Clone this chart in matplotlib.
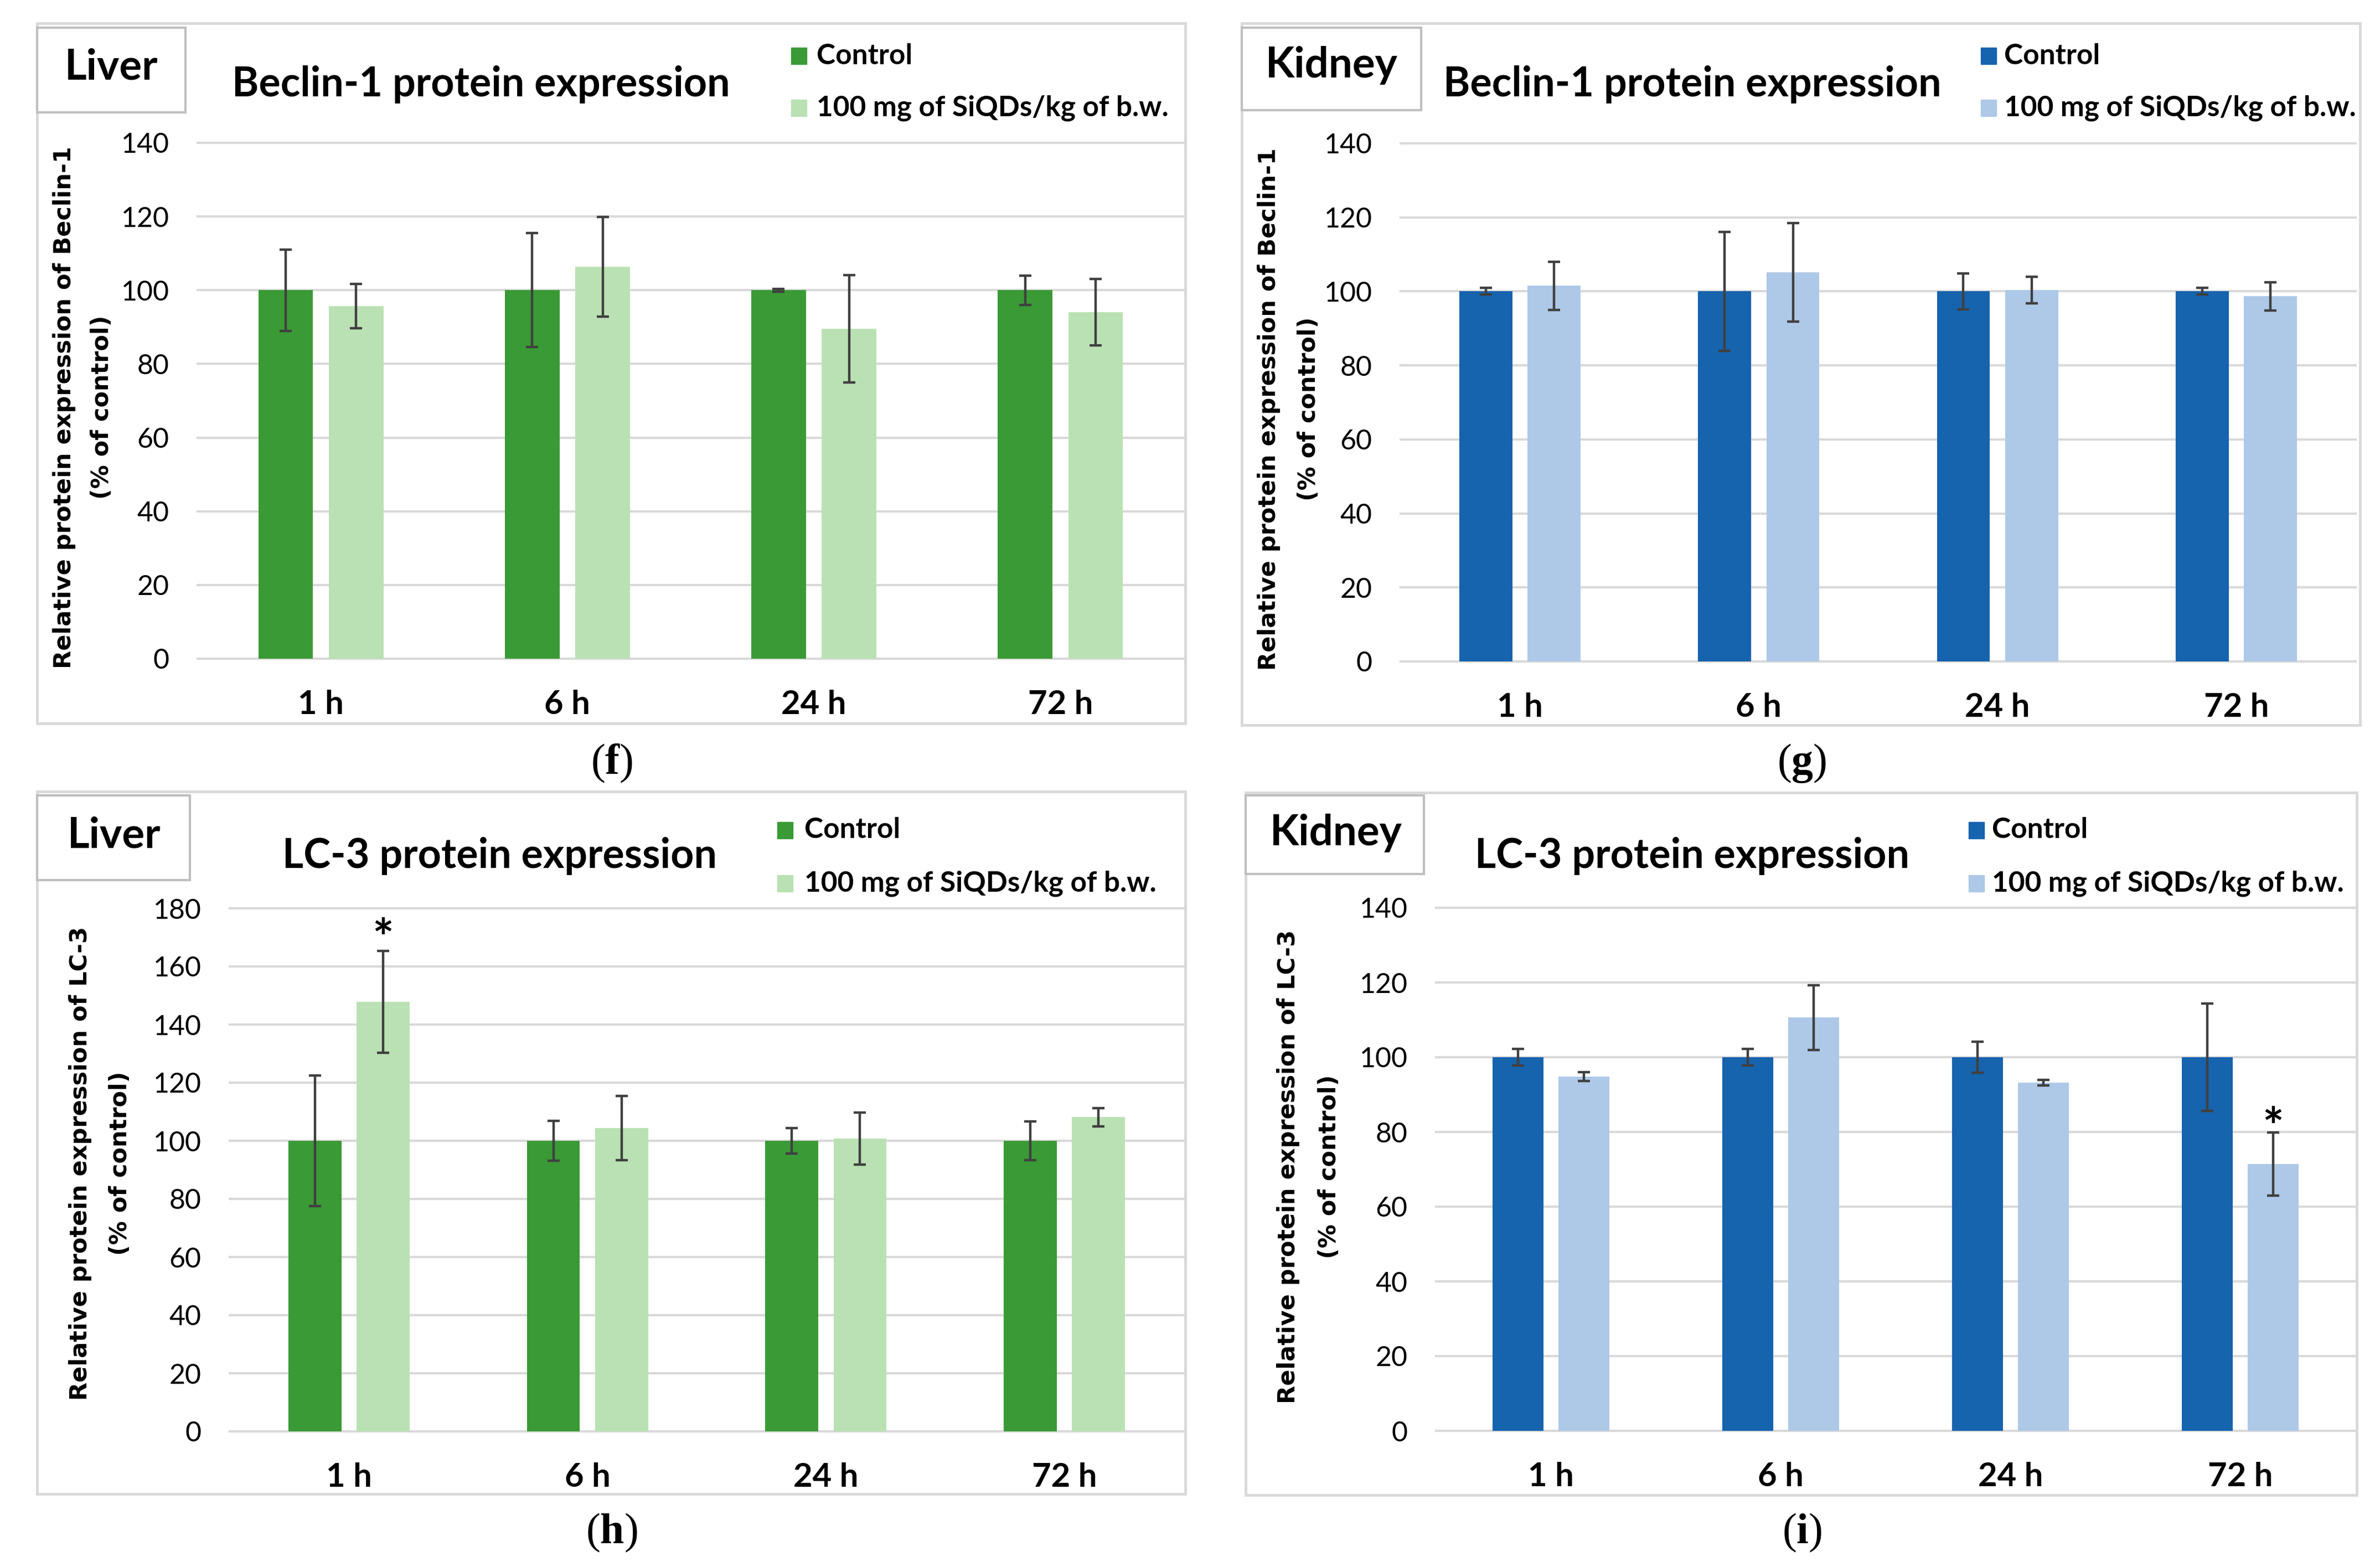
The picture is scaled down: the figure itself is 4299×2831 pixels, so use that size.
import matplotlib
matplotlib.use('Agg')
import matplotlib.pyplot as plt
from matplotlib.patches import Rectangle
import numpy as np

W, H = 4299, 2831
plt.rcParams['font.family'] = ['Lato', 'DejaVu Sans']
plt.rcParams['mathtext.fontset'] = 'custom'
plt.rcParams['mathtext.rm'] = 'Liberation Serif'
plt.rcParams['mathtext.bf'] = 'Liberation Serif:bold'

# data
times = ['1 h', '6 h', '24 h', '72 h']
series_labels = ['Control', '100 mg of SiQDs/kg of b.w.']

liver_beclin_ctrl = [100, 100, 100, 100]
liver_beclin_ctrl_err = [11.0, 15.5, 0.4, 4.0]
liver_beclin_trt = [95.7, 106.4, 89.5, 94.0]
liver_beclin_trt_err = [6.0, 13.5, 14.6, 9.0]

kidney_beclin_ctrl = [100, 100, 100, 100]
kidney_beclin_ctrl_err = [0.9, 16.1, 4.9, 0.9]
kidney_beclin_trt = [101.5, 105.1, 100.3, 98.7]
kidney_beclin_trt_err = [6.5, 13.3, 3.6, 3.8]

liver_lc3_ctrl = [100, 100, 100, 100]
liver_lc3_ctrl_err = [22.4, 6.8, 4.3, 6.6]
liver_lc3_trt = [147.8, 104.4, 100.8, 108.1]
liver_lc3_trt_err = [17.6, 11.1, 9.0, 3.2]

kidney_lc3_ctrl = [100, 100, 100, 100]
kidney_lc3_ctrl_err = [2.2, 2.2, 4.1, 14.3]
kidney_lc3_trt = [94.8, 110.6, 93.2, 71.4]
kidney_lc3_trt_err = [1.2, 8.6, 0.7, 8.5]

greens = ['#3A9A35', '#BAE1B3']
blues = ['#1663AE', '#AEC8E8']

fig = plt.figure(figsize=(W / 100, H / 100), dpi=100)


def fx(px):
    return px / W


def fy(py):
    return 1 - py / H


def box(x0, y0, x1, y1, ec, lw):
    fig.add_artist(Rectangle((fx(x0), fy(y1)), (x1 - x0) / W, (y1 - y0) / H,
                             transform=fig.transFigure, facecolor='white',
                             edgecolor=ec, linewidth=lw, zorder=0))


panels = [
    dict(frame=(67, 42, 2141, 1307), ax=(357, 258, 2138, 1190), ymax=140,
         organ='Liver', obox=(67, 50, 335, 203), organ_xy=(201, 143),
         title='Beclin-1 protein expression', title_xy=(869, 174),
         leg=(1429, 1475, 101, 195), ylab='Beclin-1', ylab_x=(116, 184), ylab_y=736,
         cap='f', cap_xy=(1105, 1379), colors=greens,
         ctrl=liver_beclin_ctrl, ctrl_err=liver_beclin_ctrl_err,
         trt=liver_beclin_trt, trt_err=liver_beclin_trt_err, stars=[]),
    dict(frame=(2243, 42, 4263, 1310), ax=(2530, 259, 4255, 1195), ymax=140,
         organ='Kidney', obox=(2243, 50, 2567, 199), organ_xy=(2405, 140),
         title='Beclin-1 protein expression', title_xy=(3057, 174),
         leg=(3578, 3620, 101, 195), ylab='Beclin-1', ylab_x=(2292, 2364), ylab_y=739,
         cap='g', cap_xy=(3255, 1379), colors=blues,
         ctrl=kidney_beclin_ctrl, ctrl_err=kidney_beclin_ctrl_err,
         trt=kidney_beclin_trt, trt_err=kidney_beclin_trt_err, stars=[]),
    dict(frame=(67, 1430, 2141, 2699), ax=(415, 1641, 2138, 2586), ymax=180,
         organ='Liver', obox=(67, 1437, 343, 1590), organ_xy=(206, 1532),
         title='LC-3 protein expression', title_xy=(902, 1568),
         leg=(1404, 1453, 1500, 1596), ylab='LC-3', ylab_x=(145, 217), ylab_y=2102,
         cap='h', cap_xy=(1105, 2769), colors=greens,
         ctrl=liver_lc3_ctrl, ctrl_err=liver_lc3_ctrl_err,
         trt=liver_lc3_trt, trt_err=liver_lc3_trt_err, stars=[(0, 168.5)]),
    dict(frame=(2250, 1432, 4257, 2701), ax=(2594, 1640, 4254, 2585), ymax=140,
         organ='Kidney', obox=(2250, 1437, 2572, 1579), organ_xy=(2413, 1527),
         title='LC-3 protein expression', title_xy=(3056, 1568),
         leg=(3556, 3598, 1500, 1596), ylab='LC-3', ylab_x=(2327, 2401), ylab_y=2108,
         cap='i', cap_xy=(3255, 2769), colors=blues,
         ctrl=kidney_lc3_ctrl, ctrl_err=kidney_lc3_ctrl_err,
         trt=kidney_lc3_trt, trt_err=kidney_lc3_trt_err, stars=[(3, 80.5)]),
]

x = np.arange(len(times))
bw = 0.222
off = 0.143

for p in panels:
    box(*p['frame'], ec='#D9D9D9', lw=3.5)
    box(*p['obox'], ec='#BFBFBF', lw=3)
    fig.text(fx(p['organ_xy'][0]), fy(p['organ_xy'][1]), p['organ'], ha='center',
             va='baseline', fontsize=55, fontweight='bold')
    fig.text(fx(p['title_xy'][0]), fy(p['title_xy'][1]), p['title'], ha='center',
             va='baseline', fontsize=53, fontweight='bold')

    x0, y0, x1, y1 = p['ax']
    ax = fig.add_axes([fx(x0), fy(y1), (x1 - x0) / W, (y1 - y0) / H])
    c1, c2 = p['colors']
    ax.bar(x - off, p['ctrl'], bw, color=c1, zorder=2)
    ax.bar(x + off, p['trt'], bw, color=c2, zorder=2)
    ax.errorbar(x - off, p['ctrl'], yerr=p['ctrl_err'], fmt='none', ecolor='#404040',
                elinewidth=3.2, capsize=8, capthick=3.2, zorder=3)
    ax.errorbar(x + off, p['trt'], yerr=p['trt_err'], fmt='none', ecolor='#404040',
                elinewidth=3.2, capsize=8, capthick=3.2, zorder=3)
    for i, yv in p['stars']:
        ax.text(i + off, yv, '*', ha='center', va='center', fontsize=66,
                fontweight='bold', zorder=4)

    ax.set_xlim(-0.5, len(times) - 0.5)
    ax.set_ylim(0, p['ymax'])
    ax.set_yticks(np.arange(0, p['ymax'] + 1, 20))
    ax.set_xticks(x)
    ax.set_xticklabels(times, fontsize=43, fontweight='bold')
    ax.tick_params(axis='y', length=0, labelsize=36, pad=37)
    ax.tick_params(axis='x', length=0, pad=40)
    for s in ax.spines.values():
        s.set_visible(False)
    ax.yaxis.grid(True, color='#D9D9D9', linewidth=3, clip_on=False)
    ax.set_axisbelow(True)
    ax.patch.set_alpha(0)

    # legend
    lx, tx, r1, r2 = p['leg']
    for (ry, col, lab) in [(r1, c1, series_labels[0]), (r2, c2, series_labels[1])]:
        fig.add_artist(Rectangle((fx(lx), fy(ry + 15)), 28 / W, 30 / H,
                                 transform=fig.transFigure, color=col))
        fig.text(fx(tx), fy(ry), lab, ha='left', va='center', fontsize=37,
                 fontweight='bold')

    # y label in two lines
    fig.text(fx(p['ylab_x'][0]), fy(p['ylab_y']),
             'Relative protein expression of ' + p['ylab'], rotation=90,
             ha='center', va='center', fontsize=31, fontweight='bold',
             family='DejaVu Sans')
    fig.text(fx(p['ylab_x'][1]), fy(p['ylab_y']), '(% of control)', rotation=90,
             ha='center', va='center', fontsize=31, fontweight='bold',
             family='DejaVu Sans')

    fig.text(fx(p['cap_xy'][0]), fy(p['cap_xy'][1]), '($\\mathbf{%s}$)' % p['cap'],
             ha='center', va='center', fontsize=56, family='Liberation Serif')

fig.savefig('out.png', dpi=100, facecolor='white')
